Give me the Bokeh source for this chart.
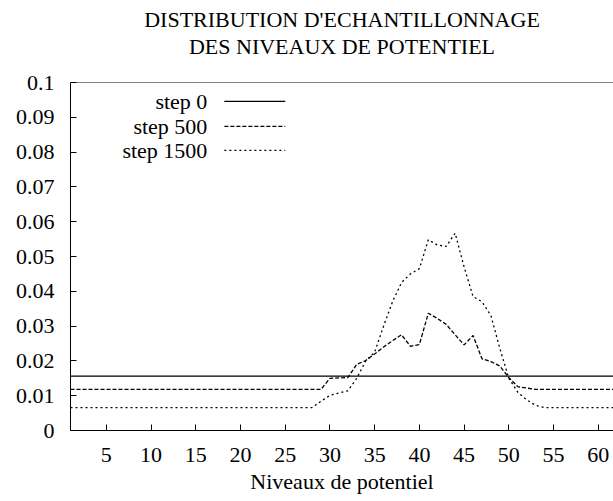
from bokeh.plotting import figure
from bokeh.models import Range1d, FixedTicker, CustomJSTickFormatter, Span, Title, ColumnDataSource
from bokeh.embed import file_html
from bokeh.resources import INLINE

TITLE_LINE1 = "DISTRIBUTION D'ECHANTILLONNAGE"
TITLE_LINE2 = "DES NIVEAUX DE POTENTIEL"
X_LABEL = "Niveaux de potentiel"
SERIES_NAMES = ["step 0", "step 500", "step 1500"]

levels = list(range(1, 65))

step0 = [0.015625] * 64

step500 = [
    0.0118, 0.0118, 0.0118, 0.0118, 0.0118, 0.0118, 0.0118, 0.0118, 0.0118, 0.0118,
    0.0118, 0.0118, 0.0118, 0.0118, 0.0118, 0.0118, 0.0118, 0.0118, 0.0118, 0.0118,
    0.0118, 0.0118, 0.0118, 0.0118, 0.0118, 0.0118, 0.0118, 0.0118, 0.0118, 0.0150,
    0.0151, 0.0152, 0.0190, 0.0201, 0.0220, 0.0240, 0.0258, 0.0275, 0.0242, 0.0247,
    0.0337, 0.0322, 0.0305, 0.0275, 0.0246, 0.0273, 0.0206, 0.0198, 0.0185, 0.0152,
    0.0126, 0.0122, 0.0118, 0.0118, 0.0118, 0.0118, 0.0118, 0.0118, 0.0118, 0.0118,
    0.0118, 0.0118, 0.0118, 0.0118,
]

step1500 = [
    0.0066, 0.0066, 0.0066, 0.0066, 0.0066, 0.0066, 0.0066, 0.0066, 0.0066, 0.0066,
    0.0066, 0.0066, 0.0066, 0.0066, 0.0066, 0.0066, 0.0066, 0.0066, 0.0066, 0.0066,
    0.0066, 0.0066, 0.0066, 0.0066, 0.0066, 0.0066, 0.0066, 0.0066, 0.0084, 0.0101,
    0.0108, 0.0114, 0.0150, 0.0200, 0.0225, 0.0300, 0.0370, 0.0425, 0.0450, 0.0465,
    0.0548, 0.0533, 0.0529, 0.0567, 0.0470, 0.0385, 0.0370, 0.0330, 0.0235, 0.0150,
    0.0110, 0.0088, 0.0072, 0.0066, 0.0066, 0.0066, 0.0066, 0.0066, 0.0066, 0.0066,
    0.0066, 0.0066, 0.0066, 0.0066,
]

x_ticks = [5, 10, 15, 20, 25, 30, 35, 40, 45, 50, 55, 60]
y_ticks = [0, 0.01, 0.02, 0.03, 0.04, 0.05, 0.06, 0.07, 0.08, 0.09, 0.1]

FONT = "'Liberation Serif', 'Times New Roman', serif"
FS = "22px"
DASH_500 = "4 2"
DASH_1500 = "2 3"

p = figure(width=613, height=498, output_backend="svg", toolbar_location=None,
           x_range=Range1d(1, 61.7), y_range=Range1d(0, 0.1),
           min_border_left=70, min_border_right=0, min_border_top=82, min_border_bottom=68)
p.title = None
p.outline_line_color = None
p.background_fill_color = "white"
p.border_fill_color = "white"
p.grid.visible = False

spacer = Title(text=" ", align="center", text_font=FONT, text_font_size="20px",
               standoff=0, offset=0)
t2 = Title(text=TITLE_LINE2, align="center", text_font=FONT, text_font_size=FS,
           text_font_style="normal", text_color="black", standoff=0, offset=0)
t1 = Title(text=TITLE_LINE1, align="center", text_font=FONT, text_font_size=FS,
           text_font_style="normal", text_color="black", standoff=0, offset=0)
p.add_layout(spacer, "above")
p.add_layout(t2, "above")
p.add_layout(t1, "above")

for ax in (p.xaxis[0], p.yaxis[0]):
    ax.major_tick_in = 6
    ax.major_tick_out = 0
    ax.minor_tick_line_color = None
    ax.axis_line_color = "black"
    ax.major_tick_line_color = "black"
    ax.major_label_text_font = FONT
    ax.major_label_text_font_size = FS
    ax.major_label_text_color = "black"

p.xaxis.ticker = FixedTicker(ticks=x_ticks)
p.yaxis.ticker = FixedTicker(ticks=y_ticks)
p.yaxis.formatter = CustomJSTickFormatter(code="return Number(tick.toFixed(2)).toString();")
p.yaxis.major_label_standoff = 16
p.xaxis.major_label_standoff = 17
p.xaxis.axis_label = X_LABEL
p.xaxis.axis_label_text_font = FONT
p.xaxis.axis_label_text_font_size = FS
p.xaxis.axis_label_text_font_style = "normal"
p.xaxis.axis_label_text_color = "black"
p.xaxis.axis_label_standoff = 4

p.add_layout(Span(location=0.1, dimension="width", line_color="black", line_width=1.2))

src = ColumnDataSource(dict(x=levels, s0=step0, s500=step500, s1500=step1500))
p.line("x", "s0", source=src, line_color="black", line_width=1.3)
p.line("x", "s500", source=src, line_color="black", line_width=1.3, line_dash=DASH_500)
p.line("x", "s1500", source=src, line_color="black", line_width=1.3, line_dash=DASH_1500)

leg_y = [0.0946, 0.0874, 0.0805]
leg_text_x = [16.3, 16.3, 16.3]
leg_x0 = [18.2, 18.2, 18.2]
leg_x1 = [25.0, 25.0, 25.0]
dashes = ["solid", DASH_500, DASH_1500]
p.text(x=leg_text_x, y=leg_y, text=SERIES_NAMES, text_align="right", text_baseline="middle",
       text_font={"value": FONT}, text_font_size=FS, text_color="black")
for i in range(3):
    p.line([leg_x0[i], leg_x1[i]], [leg_y[i], leg_y[i]], line_color="black",
           line_width=1.3, line_dash=dashes[i])

open("out.html", "w").write(file_html(p, INLINE))
